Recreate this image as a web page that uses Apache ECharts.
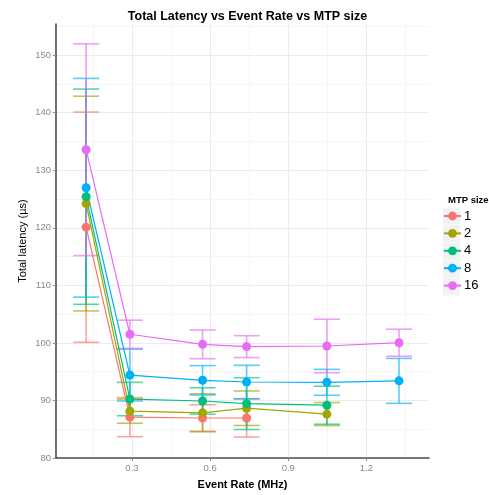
<!DOCTYPE html>
<html>
<head>
<meta charset="utf-8">
<script src="https://cdn.jsdelivr.net/npm/echarts@6/dist/echarts.min.js"></script>
<style>html,body{margin:0;padding:0;background:#fff}#c{width:489px;height:495px}</style>
</head>
<body>
<div id="c"></div>
<script>
// ---- data ----
const rates = [0.124, 0.292, 0.571, 0.740, 1.048, 1.325];
const sizes = ['1', '2', '4', '8', '16'];
const mean1  = [120.1, 87.1, 86.95, 86.95];
const err1   = [20.0, 3.4, 2.3, 3.3];
const mean2  = [124.2, 88.14, 87.85, 88.65, 87.63];
const err2   = [18.65, 2.1, 3.3, 3.0, 2.0];
const mean4  = [125.4, 90.24, 89.9, 89.45, 89.17];
const err4   = [18.7, 2.9, 2.3, 4.5, 3.3];
const mean8  = [126.95, 94.4, 93.5, 93.2, 93.15, 93.4];
const err8   = [19.0, 4.5, 2.55, 2.9, 2.25, 3.9];
const mean16 = [133.56, 101.5, 99.75, 99.35, 99.46, 100.03];
const err16  = [18.4, 2.45, 2.5, 1.9, 4.65, 2.35];
const xTicks = [0.3, 0.6, 0.9, 1.2];
const xMinor = [0.15, 0.45, 0.75, 1.05, 1.35];
const yTicks = [80, 90, 100, 110, 120, 130, 140, 150];
const yMinor = [85, 95, 105, 115, 125, 135, 145, 155];

// ---- styling ----
const colors = ['#F8766D', '#A3A500', '#00BF7D', '#00B0F6', '#E76BF3'];
const means = [mean1, mean2, mean4, mean8, mean16];
const errs = [err1, err2, err4, err8, err16];
const capHalf = 0.05;
const FONT = "'Liberation Sans', Arial, Helvetica, sans-serif";

const series = [];
sizes.forEach((s, k) => {
  series.push({
    type: 'custom', name: s + ' err', silent: true, z: 1,
    xAxisIndex: 0, yAxisIndex: 0,
    data: means[k].map((m, i) => [rates[i], m - errs[k][i], m + errs[k][i]]),
    encode: { x: 0, y: [1, 2] },
    renderItem: function (params, api) {
      const x = api.value(0), lo = api.value(1), hi = api.value(2);
      const a = api.coord([x, lo]), b = api.coord([x, hi]);
      const l1 = api.coord([x - capHalf, lo]), r1 = api.coord([x + capHalf, lo]);
      const l2 = api.coord([x - capHalf, hi]), r2 = api.coord([x + capHalf, hi]);
      const st = { stroke: colors[k], lineWidth: 1.6, opacity: 0.65 };
      return { type: 'group', children: [
        { type: 'line', shape: { x1: a[0], y1: a[1], x2: b[0], y2: b[1] }, style: st },
        { type: 'line', shape: { x1: l1[0], y1: l1[1], x2: r1[0], y2: r1[1] }, style: st },
        { type: 'line', shape: { x1: l2[0], y1: l2[1], x2: r2[0], y2: r2[1] }, style: st }
      ]};
    }
  });
});
sizes.forEach((s, k) => {
  series.push({
    type: 'line', name: s, z: 3,
    xAxisIndex: 0, yAxisIndex: 0,
    data: means[k].map((m, i) => [rates[i], m]),
    symbol: 'circle', symbolSize: 9, showSymbol: true,
    itemStyle: { color: colors[k], opacity: 1 },
    lineStyle: { color: colors[k], width: 1.2 },
    emphasis: { disabled: true }
  });
});

const xMin = 0.0084, xMax = 1.44, yMin = 80, yMax = 155.4;
const gridDef = { left: 56, right: 60, top: 24, bottom: 29, containLabel: false };

const legendTop = 209.5, legendPitch = 17.7;
const graphics = sizes.map((s, i) => ({
  type: 'rect', left: 443, top: legendTop - 1.9 + i * legendPitch, z: -1,
  shape: { width: 17, height: 17 }, style: { fill: '#f2f2f2' }, silent: true
}));

const chart = echarts.init(document.getElementById('c'), null, { renderer: 'canvas' });
chart.setOption({
  animation: false,
  color: colors,
  backgroundColor: '#ffffff',
  textStyle: { fontFamily: FONT },
  title: [
    { text: 'Total Latency vs Event Rate vs MTP size', left: 242.5, textAlign: 'center', top: 5,
      textStyle: { fontFamily: FONT, fontSize: 12.5, fontWeight: 'bold', color: '#000' } },
    { text: 'MTP size', left: 443, top: 190,
      textStyle: { fontFamily: FONT, fontSize: 9.5, fontWeight: 'bold', color: '#000' } }
  ],
  graphic: graphics,
  legend: {
    data: sizes, orient: 'vertical', left: 443, top: legendTop,
    itemWidth: 17, itemHeight: 11, itemGap: 4.4, padding: 0,
    textStyle: { fontFamily: FONT, fontSize: 13, color: '#000', padding: [0, 0, 0, -2] },
    selectedMode: false
  },
  grid: gridDef,
  xAxis: [
    { type: 'value', min: xMin, max: xMax,
      name: 'Event Rate (MHz)', nameLocation: 'middle', nameGap: 21, nameMoveOverlap: false,
      nameTextStyle: { fontFamily: FONT, fontSize: 11, fontWeight: 'bold', color: '#000' },
      axisLine: { show: true, onZero: false, lineStyle: { color: '#4d4d4d', width: 1.6 } },
      axisTick: { show: true, length: 3, customValues: xTicks, lineStyle: { color: '#8a8a8a', width: 1 } },
      axisLabel: { customValues: xTicks, margin: 5, fontSize: 9.5, color: '#8a8a8a', fontFamily: FONT },
      splitLine: { show: true, lineStyle: { color: '#ebebeb', width: 1 } } },
    { type: 'value', min: xMin, max: xMax, position: 'bottom',
      axisLine: { show: false }, axisLabel: { show: false },
      axisTick: { show: false, customValues: xMinor },
      splitLine: { show: true, lineStyle: { color: '#f5f5f5', width: 1 } } }
  ],
  yAxis: [
    { type: 'value', min: yMin, max: yMax,
      name: 'Total latency (µs)', nameLocation: 'middle', nameGap: 28, nameRotate: 90, nameMoveOverlap: false,
      nameTextStyle: { fontFamily: FONT, fontSize: 11, color: '#000' },
      axisLine: { show: true, onZero: false, lineStyle: { color: '#4d4d4d', width: 1.6 } },
      axisTick: { show: true, length: 3, customValues: yTicks, lineStyle: { color: '#8a8a8a', width: 1 } },
      axisLabel: { customValues: yTicks, margin: 5, fontSize: 9.5, color: '#8a8a8a', fontFamily: FONT },
      splitLine: { show: true, lineStyle: { color: '#ebebeb', width: 1 } } },
    { type: 'value', min: yMin, max: yMax, position: 'left',
      axisLine: { show: false }, axisLabel: { show: false },
      axisTick: { show: false, customValues: yMinor },
      splitLine: { show: true, lineStyle: { color: '#f5f5f5', width: 1 } } }
  ],
  series: series
});
</script>
</body>
</html>
